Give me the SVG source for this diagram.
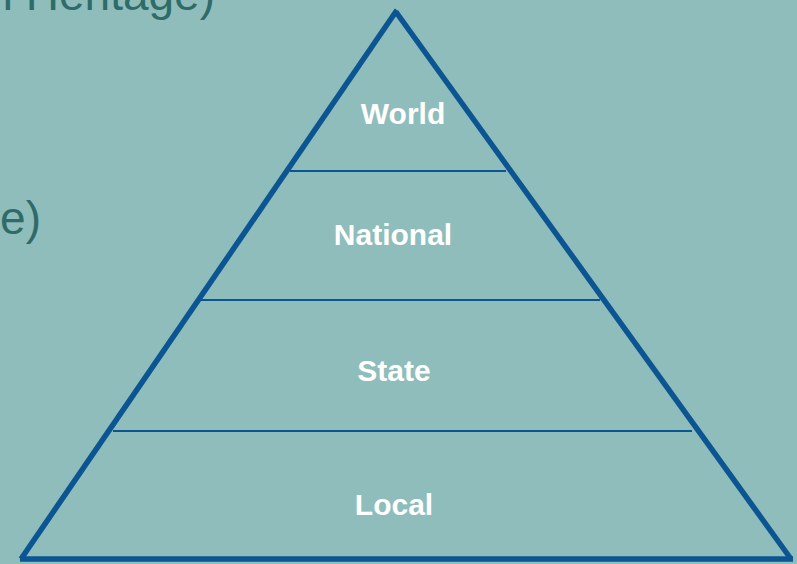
<svg xmlns="http://www.w3.org/2000/svg" width="797" height="564" viewBox="0 0 797 564">
<style>
.edge{stroke:#0b5592;stroke-width:5.5;fill:none;stroke-linecap:butt}
.tier{stroke:#0b5592;stroke-width:2.2;fill:none}
.lbl{font-family:"Liberation Sans",Arial,sans-serif;font-weight:bold;font-size:30px;fill:#ffffff;text-anchor:middle}
.bg{font-family:"Liberation Sans",Arial,sans-serif;font-size:46px;fill:#2f6b68}
</style>
<rect width="797" height="564" fill="#8fbdbb"/>
<text class="bg" x="215" y="10" text-anchor="end">l Heritage)</text>
<text class="bg" x="41" y="234" text-anchor="end">e)</text>
<g id="connectors">
<line class="edge" x1="397" y1="10" x2="21" y2="559"/>
<line class="edge" x1="396" y1="12" x2="791" y2="559"/>
<line class="edge" x1="20" y1="559" x2="793" y2="559"/>
<line class="tier" x1="290" y1="171" x2="506" y2="171"/>
<line class="tier" x1="201" y1="300" x2="600" y2="300"/>
<line class="tier" x1="113" y1="431" x2="692" y2="431"/>
</g>
<g id="world"><text class="lbl" x="403" y="124">World</text></g>
<g id="national"><text class="lbl" x="393" y="245">National</text></g>
<g id="state"><text class="lbl" x="394" y="381">State</text></g>
<g id="local"><text class="lbl" x="394" y="515">Local</text></g>
</svg>
